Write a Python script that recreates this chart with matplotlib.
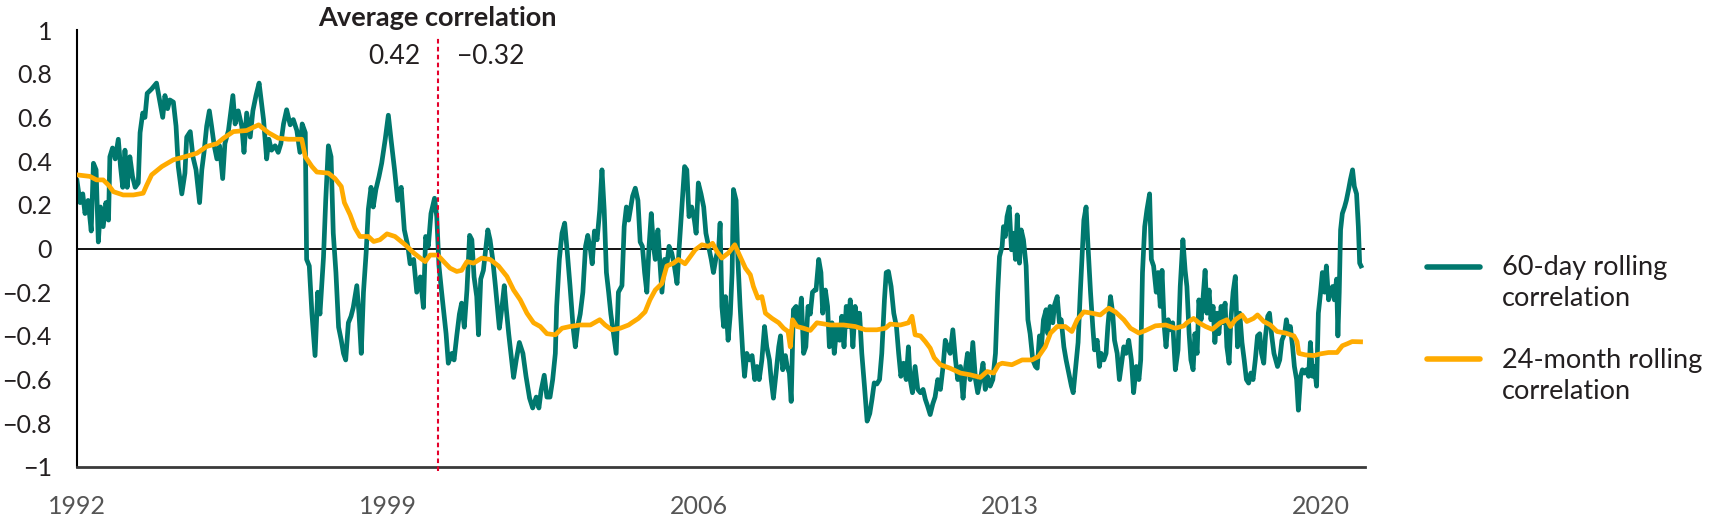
import matplotlib
matplotlib.use("Agg")
import matplotlib.pyplot as plt
from matplotlib.lines import Line2D

plt.rcParams['font.family'] = ['Lato', 'DejaVu Sans']

# ---------------- data ----------------
teal_years = [
    1992.00, 1992.07, 1992.13, 1992.18, 1992.25, 1992.32, 1992.37, 1992.43, 1992.48, 1992.53,
    1992.59, 1992.65, 1992.71, 1992.74, 1992.80, 1992.86, 1992.93, 1992.98, 1993.03, 1993.08,
    1993.13, 1993.19, 1993.25, 1993.31, 1993.38, 1993.42, 1993.48, 1993.53, 1993.58, 1993.68,
    1993.79, 1993.85, 1993.93, 1993.98, 1994.04, 1994.09, 1994.17, 1994.23, 1994.28, 1994.36,
    1994.43, 1994.47, 1994.55, 1994.61, 1994.68, 1994.76, 1994.81, 1994.86, 1994.92, 1994.98,
    1995.03, 1995.09, 1995.15, 1995.21, 1995.28, 1995.33, 1995.41, 1995.51, 1995.56, 1995.63,
    1995.71, 1995.76, 1995.82, 1995.90, 1995.96, 1996.03, 1996.10,
    1996.20, 1996.27, 1996.32, 1996.38, 1996.46, 1996.53, 1996.59, 1996.65, 1996.72, 1996.80,
    1996.87, 1996.95, 1997.02, 1997.07, 1997.14, 1997.17, 1997.23, 1997.29, 1997.36, 1997.42,
    1997.47, 1997.55, 1997.60, 1997.66, 1997.72, 1997.77, 1997.83, 1997.89, 1997.95, 1998.00,
    1998.05, 1998.11, 1998.17, 1998.22, 1998.30, 1998.35, 1998.40, 1998.45, 1998.51, 1998.56,
    1998.62, 1998.67, 1998.73, 1998.80, 1998.86, 1998.94, 1999.01, 1999.07, 1999.15, 1999.22,
    1999.30, 1999.37, 1999.45, 1999.50, 1999.58, 1999.65, 1999.73, 1999.80, 1999.85, 1999.91,
    1999.97, 2000.05, 2000.10, 2000.15, 2000.21,
    2000.31, 2000.36, 2000.44, 2000.49, 2000.55, 2000.61, 2000.66, 2000.72, 2000.78, 2000.84,
    2000.89, 2000.94, 2001.00, 2001.04, 2001.09, 2001.15, 2001.21, 2001.25, 2001.30, 2001.36,
    2001.42, 2001.47, 2001.51, 2001.57, 2001.62, 2001.66, 2001.72, 2001.77, 2001.83, 2001.89,
    2001.96, 2002.04, 2002.11, 2002.19, 2002.26, 2002.34, 2002.40, 2002.45, 2002.52, 2002.58,
    2002.65, 2002.71, 2002.77, 2002.80, 2002.86, 2002.92, 2002.98, 2003.04, 2003.10, 2003.17,
    2003.22, 2003.27, 2003.33, 2003.39, 2003.45, 2003.50, 2003.56, 2003.60, 2003.65, 2003.71,
    2003.77, 2003.82, 2003.87, 2003.92, 2003.97, 2004.02, 2004.08, 2004.14, 2004.19, 2004.27,
    2004.32, 2004.37, 2004.42,
    2004.51, 2004.57, 2004.63, 2004.68, 2004.73, 2004.78, 2004.83, 2004.88, 2004.93, 2004.98,
    2005.02, 2005.08, 2005.12, 2005.17, 2005.23, 2005.28, 2005.33, 2005.39, 2005.45, 2005.51,
    2005.56, 2005.62, 2005.68, 2005.73, 2005.78, 2005.84, 2005.90, 2005.94, 2005.99, 2006.05,
    2006.11, 2006.16, 2006.22, 2006.28, 2006.33, 2006.39, 2006.45, 2006.48, 2006.52, 2006.56,
    2006.60, 2006.66, 2006.71, 2006.75, 2006.78, 2006.84, 2006.88, 2006.93, 2006.99, 2007.03,
    2007.08, 2007.14, 2007.20, 2007.26, 2007.31, 2007.36, 2007.42, 2007.48, 2007.53, 2007.59,
    2007.63, 2007.68, 2007.74, 2007.80, 2007.84, 2007.89, 2007.95, 2007.99, 2008.04, 2008.08,
    2008.13, 2008.19, 2008.25, 2008.31, 2008.36, 2008.41, 2008.46, 2008.51, 2008.56, 2008.61,
    2008.64, 2008.70, 2008.75, 2008.79, 2008.85, 2008.90, 2008.94, 2009.00, 2009.05, 2009.11,
    2009.17, 2009.22, 2009.27, 2009.32, 2009.37, 2009.41, 2009.47, 2009.52, 2009.58, 2009.62,
    2009.67, 2009.73, 2009.79, 2009.85, 2009.90, 2009.95, 2010.01, 2010.07, 2010.12, 2010.18,
    2010.22, 2010.27, 2010.33, 2010.39, 2010.45, 2010.50, 2010.55, 2010.61, 2010.67, 2010.72,
    2010.76, 2010.81, 2010.87, 2010.93, 2010.99, 2011.05, 2011.10, 2011.15, 2011.21, 2011.27,
    2011.32, 2011.38, 2011.44, 2011.50, 2011.55, 2011.60, 2011.66, 2011.72, 2011.78, 2011.83,
    2011.89, 2011.95, 2012.00, 2012.05, 2012.11, 2012.17, 2012.23, 2012.28, 2012.34, 2012.40,
    2012.45, 2012.50, 2012.56, 2012.62, 2012.68, 2012.73, 2012.77,
    2012.83, 2012.86, 2012.90, 2012.94, 2012.99, 2013.04, 2013.09, 2013.13, 2013.17, 2013.22,
    2013.26, 2013.31, 2013.37, 2013.41, 2013.46, 2013.52, 2013.58, 2013.62, 2013.67, 2013.71,
    2013.76, 2013.82, 2013.86, 2013.91, 2013.97, 2014.01, 2014.07, 2014.12, 2014.16, 2014.22,
    2014.27, 2014.33, 2014.39, 2014.43, 2014.48, 2014.54, 2014.59, 2014.63, 2014.67, 2014.72,
    2014.76, 2014.82, 2014.87, 2014.91, 2014.97, 2015.02, 2015.06, 2015.12, 2015.17, 2015.21,
    2015.27, 2015.32, 2015.36, 2015.42, 2015.47, 2015.51, 2015.57, 2015.62, 2015.68, 2015.74,
    2015.79, 2015.85, 2015.91, 2015.95, 2015.99, 2016.04, 2016.09, 2016.15, 2016.19, 2016.24,
    2016.30, 2016.34, 2016.39, 2016.43, 2016.48, 2016.52, 2016.57, 2016.62, 2016.67, 2016.73,
    2016.79, 2016.84, 2016.90,
    2016.95, 2016.99, 2017.04, 2017.08, 2017.13, 2017.17, 2017.22, 2017.26, 2017.31, 2017.35,
    2017.40, 2017.44, 2017.49, 2017.53, 2017.58, 2017.62, 2017.67, 2017.71, 2017.76, 2017.80,
    2017.85, 2017.89, 2017.94, 2017.98, 2018.03, 2018.08, 2018.13, 2018.18, 2018.23, 2018.28,
    2018.33, 2018.38, 2018.43, 2018.48, 2018.53, 2018.58, 2018.63, 2018.67, 2018.72, 2018.76,
    2018.81, 2018.85, 2018.90, 2018.95, 2018.99, 2019.03, 2019.08, 2019.13, 2019.19, 2019.23,
    2019.28, 2019.32, 2019.37, 2019.41, 2019.46, 2019.50, 2019.55, 2019.59, 2019.64, 2019.68,
    2019.73, 2019.77, 2019.82, 2019.86, 2019.91, 2019.95, 2020.00, 2020.04, 2020.09, 2020.13,
    2020.18, 2020.22, 2020.27, 2020.31, 2020.36, 2020.39, 2020.42, 2020.45, 2020.49, 2020.54,
    2020.58, 2020.63, 2020.67, 2020.72, 2020.76, 2020.81, 2020.85, 2020.88, 2020.91,
]
teal_corr = [
    0.31, 0.21, 0.25, 0.16, 0.22, 0.08, 0.39, 0.36, 0.03, 0.19,
    0.10, 0.21, 0.13, 0.42, 0.46, 0.41, 0.50, 0.375, 0.28, 0.45,
    0.28, 0.42, 0.33, 0.28, 0.30, 0.53, 0.62, 0.60, 0.71, 0.73,
    0.757, 0.69, 0.60, 0.70, 0.64, 0.68, 0.67, 0.56, 0.375, 0.25,
    0.345, 0.51, 0.535, 0.42, 0.36, 0.21, 0.36, 0.44, 0.56, 0.63,
    0.56, 0.47, 0.41, 0.47, 0.32, 0.48, 0.54, 0.70, 0.57, 0.63,
    0.56, 0.44, 0.62, 0.51, 0.63, 0.70, 0.757,
    0.59, 0.41, 0.50, 0.45, 0.47, 0.44, 0.48, 0.57, 0.635, 0.566,
    0.59, 0.54, 0.44, 0.57, 0.53, -0.05, -0.08, -0.30, -0.49, -0.20,
    -0.30, -0.04, 0.22, 0.47, 0.42, 0.07, -0.11, -0.36, -0.42, -0.48,
    -0.51, -0.34, -0.31, -0.27, -0.17, -0.30, -0.48, -0.20, -0.02, 0.18,
    0.28, 0.19, 0.27, 0.33, 0.39, 0.50, 0.61, 0.50, 0.36, 0.22,
    0.28, 0.085, 0.01, -0.07, -0.05, -0.20, -0.13, -0.27, 0.055, 0.01,
    0.16, 0.23, 0.146, -0.08, -0.20,
    -0.39, -0.525, -0.48, -0.51, -0.40, -0.30, -0.25, -0.36, -0.19, 0.06,
    0.04, -0.13, -0.22, -0.395, -0.14, -0.10, 0.01, 0.085, 0.04, -0.05,
    -0.17, -0.28, -0.365, -0.265, -0.17, -0.265, -0.39, -0.48, -0.59, -0.51,
    -0.43, -0.48, -0.585, -0.685, -0.73, -0.68, -0.73, -0.65, -0.58, -0.68,
    -0.68, -0.60, -0.48, -0.265, -0.05, 0.07, 0.116, -0.02, -0.17, -0.36,
    -0.45, -0.36, -0.30, -0.20, 0.01, 0.06, -0.006, -0.07, 0.08, 0.04,
    0.177, 0.36, 0.177, -0.11, -0.20, -0.30, -0.39, -0.48, -0.20, -0.17,
    0.10, 0.19, 0.13,
    0.24, 0.276, 0.22, 0.03, 0.01, -0.11, -0.20, 0.01, 0.16, 0.01,
    -0.05, 0.085, -0.05, -0.20, -0.05, -0.08, 0.01, -0.02, -0.08, -0.16,
    0.01, 0.19, 0.375, 0.36, 0.146, 0.19, 0.13, 0.07, 0.30, 0.25,
    0.19, 0.07, 0.01, -0.05, -0.11, -0.04, 0.01, 0.116, -0.265, -0.357,
    -0.22, -0.42, -0.30, -0.11, 0.27, 0.22, -0.05, -0.265, -0.48, -0.585,
    -0.48, -0.51, -0.49, -0.60, -0.54, -0.60, -0.51, -0.357, -0.45, -0.51,
    -0.60, -0.685, -0.57, -0.45, -0.40, -0.555, -0.49, -0.54, -0.57, -0.70,
    -0.28, -0.265, -0.357, -0.227, -0.48, -0.45, -0.265, -0.30, -0.20, -0.19,
    -0.19, -0.05, -0.11, -0.296, -0.19, -0.265, -0.45, -0.34, -0.48, -0.357,
    -0.42, -0.31, -0.45, -0.265, -0.357, -0.235, -0.45, -0.265, -0.357, -0.296,
    -0.48, -0.63, -0.79, -0.755, -0.69, -0.615, -0.62, -0.60, -0.48, -0.235,
    -0.11, -0.105, -0.174, -0.296, -0.357, -0.48, -0.585, -0.525, -0.60, -0.45,
    -0.60, -0.66, -0.54, -0.645, -0.66, -0.645, -0.69, -0.72, -0.76, -0.71,
    -0.68, -0.60, -0.645, -0.54, -0.42, -0.45, -0.48, -0.372, -0.51, -0.60,
    -0.54, -0.685, -0.555, -0.48, -0.60, -0.43, -0.60, -0.66, -0.60, -0.525,
    -0.645, -0.585, -0.63, -0.60, -0.48, -0.20, -0.037,
    0.01, 0.10, 0.055, 0.146, 0.19, -0.006, 0.07, -0.05, 0.154, -0.067,
    0.085, 0.04, -0.08, -0.326, -0.39, -0.51, -0.54, -0.548, -0.40, -0.464,
    -0.326, -0.28, -0.39, -0.265, -0.34, -0.258, -0.22, -0.34, -0.326, -0.45,
    -0.51, -0.57, -0.63, -0.66, -0.555, -0.43, -0.20, -0.037, 0.13, 0.19,
    0.024, -0.20, -0.357, -0.464, -0.42, -0.54, -0.48, -0.51, -0.48, -0.357,
    -0.22, -0.296, -0.42, -0.48, -0.60, -0.54, -0.45, -0.48, -0.42, -0.51,
    -0.66, -0.54, -0.60, -0.51, -0.11, 0.10, 0.177, 0.25, -0.05, -0.08,
    -0.20, -0.11, -0.265, -0.10, -0.357, -0.45, -0.326, -0.372, -0.34, -0.555,
    -0.464, -0.174, 0.04,
    -0.10, -0.174, -0.39, -0.51, -0.555, -0.39, -0.48, -0.235, -0.326, -0.235,
    -0.10, -0.296, -0.19, -0.326, -0.265, -0.43, -0.296, -0.39, -0.265, -0.34,
    -0.25, -0.45, -0.525, -0.326, -0.20, -0.128, -0.45, -0.296, -0.43, -0.51,
    -0.60, -0.616, -0.57, -0.60, -0.51, -0.40, -0.39, -0.48, -0.525, -0.40,
    -0.31, -0.296, -0.40, -0.48, -0.51, -0.54, -0.51, -0.42, -0.39, -0.326,
    -0.39, -0.357, -0.45, -0.54, -0.60, -0.74, -0.585, -0.555, -0.57, -0.555,
    -0.585, -0.43, -0.585, -0.54, -0.63, -0.296, -0.20, -0.11, -0.20, -0.08,
    -0.235, -0.20, -0.174, -0.235, -0.14, -0.40, -0.20, 0.085, 0.16, 0.19,
    0.22, 0.27, 0.314, 0.36, 0.284, 0.25, 0.10, -0.067, -0.08,
]

orange_years = [
    1992.00, 1992.29, 1992.44, 1992.59, 1992.71, 1992.82, 1993.04, 1993.27, 1993.49, 1993.57,
    1993.68, 1993.91, 1994.17, 1994.43, 1994.70, 1994.92, 1995.15, 1995.30, 1995.52, 1995.82,
    1996.09, 1996.31, 1996.53, 1996.76, 1997.06, 1997.14, 1997.29, 1997.40, 1997.66, 1997.81,
    1997.95, 1998.02, 1998.15, 1998.26, 1998.37, 1998.56, 1998.68, 1998.82, 1998.98, 1999.16,
    1999.39, 1999.58, 1999.73, 1999.84, 1999.95, 2000.12, 2000.29, 2000.40, 2000.55, 2000.66,
    2000.78, 2000.93, 2001.11, 2001.30, 2001.49, 2001.68, 2001.83, 2001.98, 2002.13, 2002.28,
    2002.43, 2002.58, 2002.77, 2002.92, 2003.10, 2003.33, 2003.56, 2003.77, 2003.89, 2004.04,
    2004.23, 2004.42, 2004.49, 2004.64, 2004.79, 2004.90, 2005.02, 2005.17, 2005.28, 2005.43,
    2005.54, 2005.69, 2005.81, 2005.92, 2006.07, 2006.22, 2006.31, 2006.41, 2006.52, 2006.67,
    2006.81, 2006.93, 2007.05, 2007.16, 2007.23, 2007.33, 2007.42, 2007.50, 2007.65, 2007.80,
    2007.91, 2008.01, 2008.06, 2008.11, 2008.21, 2008.36, 2008.51, 2008.66, 2008.96, 2009.26,
    2009.52, 2009.75, 2010.01, 2010.20, 2010.31, 2010.54, 2010.72, 2010.80, 2010.87, 2010.99,
    2011.10, 2011.21, 2011.30, 2011.44, 2011.66, 2011.89, 2012.11, 2012.34, 2012.49, 2012.64,
    2012.75, 2012.83, 2013.05, 2013.28, 2013.50, 2013.65, 2013.80, 2013.92, 2014.07, 2014.25,
    2014.40, 2014.52, 2014.67, 2014.85, 2015.04, 2015.23, 2015.38, 2015.57, 2015.72, 2015.91,
    2016.06, 2016.28, 2016.51, 2016.73, 2016.92, 2016.99, 2017.14, 2017.26, 2017.41, 2017.56,
    2017.74, 2017.89, 2017.97, 2018.08, 2018.23, 2018.34, 2018.49, 2018.58, 2018.72, 2018.87,
    2019.02, 2019.21, 2019.40, 2019.47, 2019.51, 2019.66, 2019.85, 2020.00, 2020.18, 2020.37,
    2020.49, 2020.60, 2020.71, 2020.90,
]
orange_corr = [
    0.337, 0.33, 0.314, 0.314, 0.29, 0.26, 0.245, 0.245, 0.253, 0.29,
    0.337, 0.375, 0.406, 0.42, 0.436, 0.467, 0.48, 0.505, 0.535, 0.54,
    0.566, 0.53, 0.505, 0.50, 0.50, 0.42, 0.375, 0.35, 0.345, 0.32,
    0.284, 0.21, 0.154, 0.093, 0.055, 0.055, 0.032, 0.04, 0.067, 0.055,
    0.017, -0.02, -0.044, -0.06, -0.03, -0.03, -0.067, -0.09, -0.105, -0.10,
    -0.06, -0.067, -0.044, -0.05, -0.08, -0.128, -0.19, -0.235, -0.296, -0.34,
    -0.357, -0.39, -0.395, -0.365, -0.357, -0.35, -0.35, -0.326, -0.35, -0.372,
    -0.365, -0.35, -0.34, -0.32, -0.29, -0.235, -0.19, -0.16, -0.08, -0.067,
    -0.05, -0.07, -0.037, -0.006, 0.017, 0.01, 0.024, -0.014, -0.044, -0.02,
    0.017, -0.037, -0.09, -0.12, -0.174, -0.227, -0.22, -0.296, -0.32, -0.34,
    -0.365, -0.38, -0.45, -0.326, -0.357, -0.365, -0.375, -0.34, -0.35, -0.35,
    -0.357, -0.372, -0.372, -0.365, -0.346, -0.35, -0.34, -0.31, -0.395, -0.40,
    -0.426, -0.456, -0.50, -0.532, -0.548, -0.57, -0.578, -0.59, -0.563, -0.57,
    -0.532, -0.525, -0.532, -0.51, -0.51, -0.494, -0.45, -0.387, -0.357, -0.357,
    -0.38, -0.326, -0.29, -0.296, -0.304, -0.273, -0.29, -0.326, -0.365, -0.387,
    -0.375, -0.354, -0.35, -0.365, -0.354, -0.34, -0.32, -0.34, -0.357, -0.37,
    -0.34, -0.326, -0.357, -0.326, -0.304, -0.334, -0.32, -0.304, -0.334, -0.35,
    -0.38, -0.387, -0.40, -0.426, -0.48, -0.487, -0.49, -0.482, -0.476, -0.476,
    -0.445, -0.436, -0.426, -0.427,
]

teal_label = "60-day rolling\ncorrelation"
orange_label = "24-month rolling\ncorrelation"
x_ticks = [1992, 1999, 2006, 2013, 2020]
y_ticks = [-1, -0.8, -0.6, -0.4, -0.2, 0, 0.2, 0.4, 0.6, 0.8, 1]
y_tick_labels = ["\u22121", "\u22120.8", "\u22120.6", "\u22120.4", "\u22120.2", "0",
                 "0.2", "0.4", "0.6", "0.8", "1"]
break_year = 2000.12
avg_before = "0.42"
avg_after = "\u22120.32"
annot_title = "Average correlation"

TEAL = "#00786E"
ORANGE = "#FFAB00"
RED = "#E4002B"
TXT = "#231F20"

# ---------------- figure ----------------
fig = plt.figure(figsize=(17.12, 5.2), dpi=100)
ax = fig.add_axes([77 / 1712, 53 / 520, 1288 / 1712, 437 / 520])

ax.axhline(0, color="black", lw=1.3, zorder=1)
ax.plot(teal_years, teal_corr, color=TEAL, lw=3.4, zorder=2, solid_joinstyle="round")
ax.plot(orange_years, orange_corr, color=ORANGE, lw=3.4, zorder=3, solid_joinstyle="round")
ax.plot([break_year, break_year], [-1.02, 0.97], color=RED, lw=1.5,
        linestyle=(0, (2.2, 1.6)), zorder=4, clip_on=False)

ax.set_xlim(1992, 2021)
ax.set_ylim(-1, 1)
ax.set_xticks(x_ticks)
ax.set_xticklabels([str(t) for t in x_ticks])
ax.set_yticks(y_ticks)
ax.set_yticklabels(y_tick_labels)
ax.tick_params(axis="y", length=0, pad=18, labelsize=18, labelcolor=TXT)
ax.tick_params(axis="x", length=0, pad=20, labelsize=18, labelcolor="#555555")

for s in ["top", "right"]:
    ax.spines[s].set_visible(False)
ax.spines["left"].set_linewidth(1.5)
ax.spines["left"].set_color("black")
ax.spines["bottom"].set_linewidth(2.0)
ax.spines["bottom"].set_color("#3a3a3a")

ax.text(break_year, 1.055, annot_title, ha="center", va="center", fontsize=19.5,
        fontweight="bold", color=TXT, clip_on=False)
ax.text(1999.73, 0.88, avg_before, ha="right", va="center", fontsize=19, color=TXT)
ax.text(2000.56, 0.88, avg_after, ha="left", va="center", fontsize=19, color=TXT)

# legend drawn in figure coordinates
fig.add_artist(Line2D([1427 / 1712, 1480 / 1712], [1 - 267 / 520] * 2,
                      color=TEAL, lw=4, solid_capstyle="round"))
fig.add_artist(Line2D([1427 / 1712, 1480 / 1712], [1 - 359 / 520] * 2,
                      color=ORANGE, lw=4, solid_capstyle="round"))
fig.text(1502 / 1712, 1 - 283 / 520, teal_label, ha="left", va="center",
         fontsize=19.5, color=TXT, linespacing=1.3)
fig.text(1502 / 1712, 1 - 376 / 520, orange_label, ha="left", va="center",
         fontsize=19.5, color=TXT, linespacing=1.3)

fig.savefig("out.png", dpi=100)
